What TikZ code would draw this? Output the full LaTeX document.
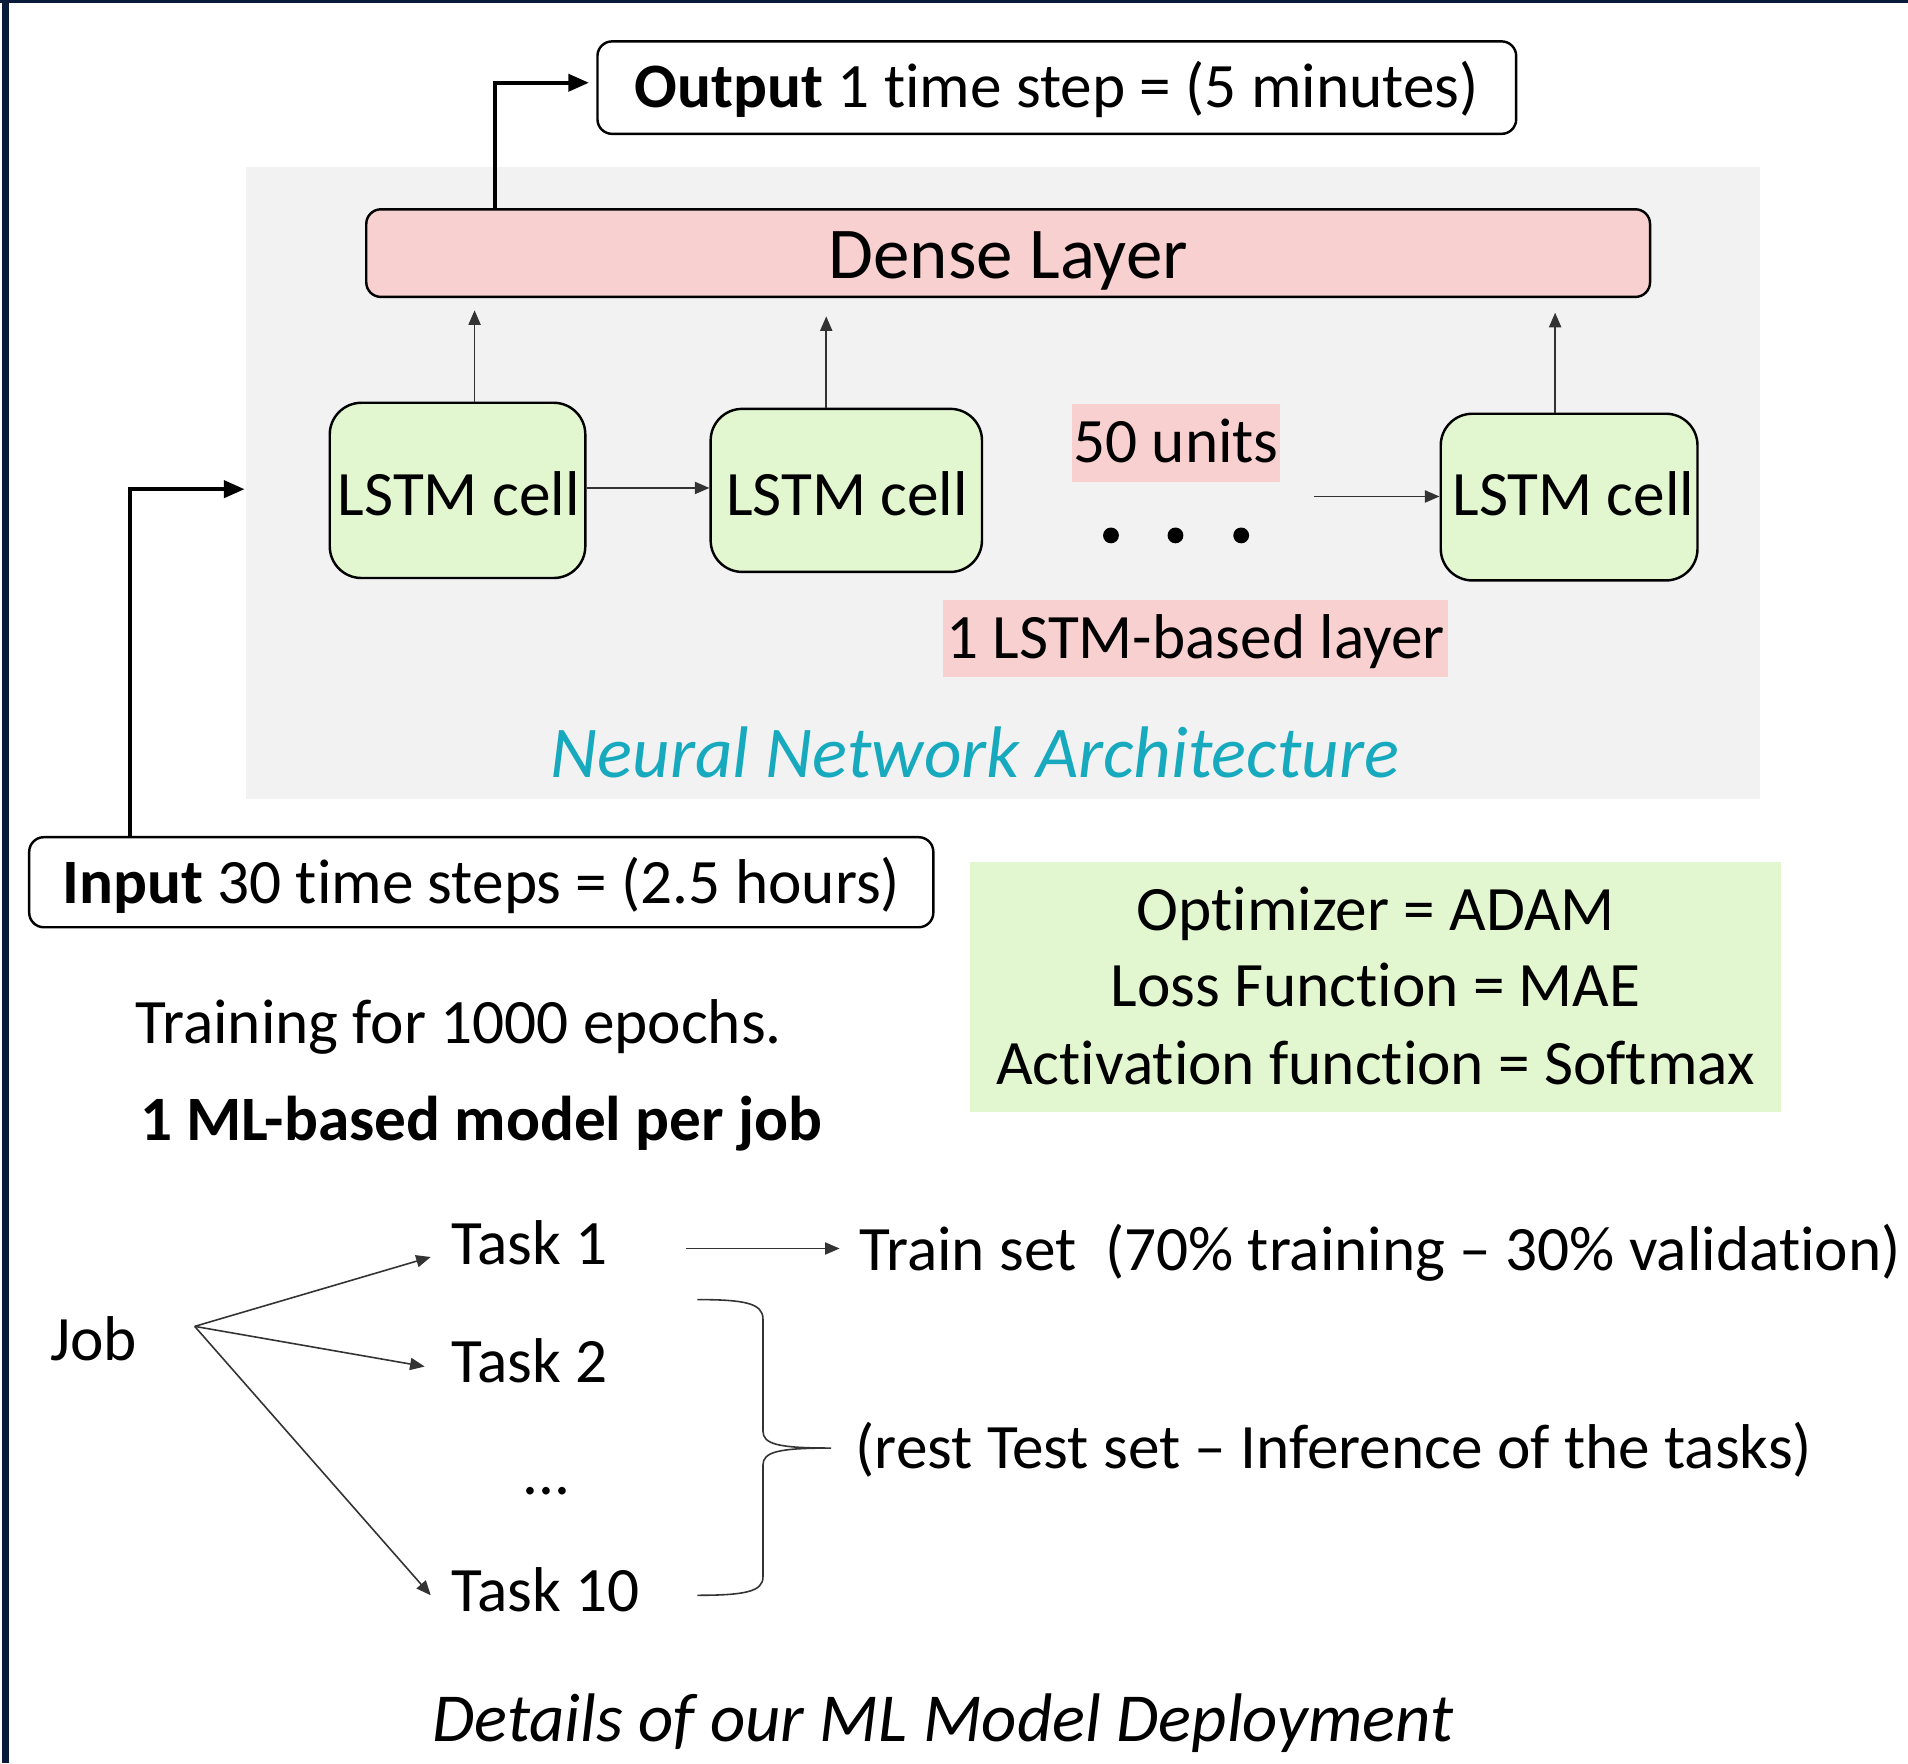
\documentclass[tikz,border=0pt]{standalone}
\usepackage{fontspec}
\setmainfont{Carlito}[Ligatures={NoCommon}]
\usetikzlibrary{arrows.meta}
\definecolor{navy}{HTML}{0A1A3A}
\definecolor{panelgray}{HTML}{F2F2F2}
\definecolor{pinkfill}{HTML}{F9D0D0}
\definecolor{cellgreen}{HTML}{E2F6D0}
\definecolor{teal}{HTML}{17A9BD}
\definecolor{linegray}{HTML}{333333}
\newcommand\myfs[1]{\fontsize{#1}{#1}\selectfont}
\tikzset{
  tf/.style={inner sep=0pt, font=\myfs{52}, text height=32.9pt, text depth=0pt},
  tbig/.style={inner sep=0pt, font=\myfs{60}, text height=37.9pt, text depth=0pt},
  boxw/.style={draw, line width=2pt, rounded corners=12pt, fill=white, inner sep=0pt},
  cellbox/.style={draw, line width=2pt, rounded corners=26pt, fill=cellgreen, inner sep=0pt},
  thinarr/.style={draw=linegray, line width=1.3pt, -{Triangle[length=12pt,width=10pt]}},
  thickarr/.style={draw=black, line width=3.2pt, -{Triangle[length=17pt,width=14pt]}},
}
\begin{document}
\begin{tikzpicture}[x=1pt,y=-1pt]
\useasboundingbox (0,0) rectangle (1568,1449);
\fill[white] (0,0) rectangle (1568,1449);
% frame
\fill[navy] (1.5,0) rectangle (7.5,1449);
\fill[navy] (0,0) rectangle (1568,2.2);
% panel
\node[fill=panelgray, inner sep=0pt, minimum width=1244pt, minimum height=520pt] (panel) at (824,397) {};
% output box
\node[boxw, minimum width=755pt, minimum height=76pt] (outbox) at (868.5,72) {};
\node[tf] (outtxt) at (868.5,72) {\textbf{Output} 1 time step = (5 minutes)};
% dense layer
\node[boxw, fill=pinkfill, minimum width=1055pt, minimum height=72pt] (dense) at (828.5,208) {};
\node[tbig] (densetxt) at (828.5,210) {Dense Layer};
% cells
\node[cellbox, minimum width=210pt, minimum height=144pt] (cell1) at (376,403) {};
\node[cellbox, minimum width=223pt, minimum height=134pt] (cell2) at (695.5,403) {};
\node[cellbox, minimum width=211pt, minimum height=137pt] (cell3) at (1289.5,408.5) {};
\node[tf] (c1txt) at (377,407) {LSTM cell};
\node[tf] (c2txt) at (696,407) {LSTM cell};
\node[tf] (c3txt) at (1293,407) {LSTM cell};
% labels
\node[tf, fill=pinkfill, minimum width=171pt, minimum height=64pt] (units) at (966.5,364) {50 units};
\node[circle, fill=black, inner sep=0pt, minimum size=13pt] (d1) at (913,440) {};
\node[circle, fill=black, inner sep=0pt, minimum size=13pt] (d2) at (966,440) {};
\node[circle, fill=black, inner sep=0pt, minimum size=13pt] (d3) at (1020,440) {};
\node[tf, fill=pinkfill, minimum width=415pt, minimum height=63pt] (layer) at (982.5,524.5) {1 LSTM-based layer};
\node[tbig, text=teal, font=\myfs{60}\itshape] (nna) at (801,620) {Neural Network Architecture};
% arrows in panel
\coordinate (u1) at (390,255);
\coordinate (u2) at (679,260);
\coordinate (u3) at (1278,257);
\draw[thinarr] (u1 |- cell1.north) -- (u1);
\draw[thinarr] (u2 |- cell2.north) -- (u2);
\draw[thinarr] (u3 |- cell3.north) -- (u3);
\coordinate (c12) at (0,401);
\draw[thinarr] (cell1.east |- c12) -- (cell2.west |- c12);
\coordinate (dotsend) at (1080,408);
\draw[thinarr] (dotsend) -- (cell3.west |- dotsend);
% input box
\node[boxw, minimum width=743pt, minimum height=74pt] (inbox) at (395.5,725) {};
\node[tf] (intxt) at (395.5,726) {\textbf{Input} 30 time steps = (2.5 hours)};
% input / output connectors
\coordinate (inbend) at (107,402);
\coordinate (inend) at (201,402);
\draw[thickarr] (inbend |- inbox.north) -- (inbend) -- (inend);
\coordinate (outbend) at (406.5,68);
\coordinate (outend) at (484,68);
\draw[thickarr] (outbend |- dense.north) -- (outbend) -- (outend);
% green box
\node[fill=cellgreen, inner sep=0pt, minimum width=667pt, minimum height=206pt] (hyper) at (1130.5,811) {};
\node[tf] (opt) at (1130.5,748) {Optimizer = ADAM};
\node[tf] (loss) at (1130.5,811) {Loss Function = MAE};
\node[tf] (act) at (1130.5,875) {Activation function = Softmax};
% training text
\node[tf, anchor=west] (train) at (111,841) {Training for 1000 epochs.};
\node[tf, anchor=west] (permodel) at (115,921) {\textbf{1 ML-based model per job}};
% job and tasks
\node[tf, anchor=west] (job) at (41,1102) {Job};
\node[tf, anchor=west] (task1) at (371,1023) {Task 1};
\node[tf, anchor=west] (task2) at (371,1120) {Task 2};
\node[inner sep=0pt, font=\myfs{52}, anchor=base] (tdots) at (449,1228) {...};
\node[tf, anchor=west] (task10) at (371,1308) {Task 10};
\coordinate (jobpt) at (160,1090);
\coordinate (t1tip) at (354,1033);
\coordinate (t2tip) at (349,1123);
\coordinate (t10tip) at (354,1311);
\draw[thinarr] (jobpt) -- (t1tip);
\draw[thinarr] (jobpt) -- (t2tip);
\draw[thinarr] (jobpt) -- (t10tip);
\coordinate (trstart) at (564,1026);
\coordinate (trend) at (690,1026);
\draw[thinarr] (trstart) -- (trend);
\node[tf, anchor=west] (trainset) at (706,1028) {Train set\ \ (70\% training – 30\% validation)};
% brace
\draw[linegray, line width=1.3pt] (573,1068) .. controls (612,1068) and (627,1071) .. (627,1084)
  -- (627,1176) .. controls (627,1187) and (640,1190) .. (683,1190)
  .. controls (640,1190) and (627,1193) .. (627,1204)
  -- (627,1296) .. controls (627,1308) and (612,1311) .. (573,1311);
\node[tf, anchor=west] (rest) at (703,1190) {(rest Test set – Inference of the tasks)};
% caption
\node[inner sep=0pt, font=\myfs{56.5}\itshape, text height=35.7pt, text depth=0pt] (caption) at (775,1413) {Details of our ML Model Deployment};
\end{tikzpicture}
\end{document}
